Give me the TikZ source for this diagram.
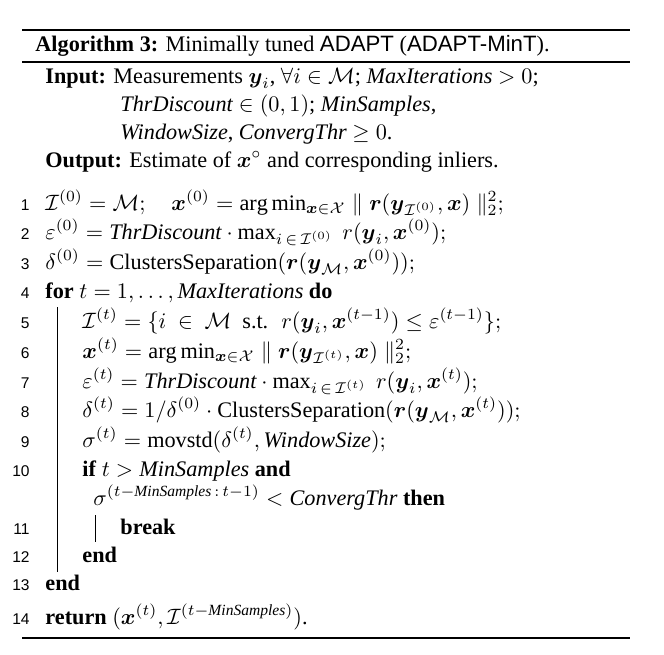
\documentclass[tikz,border=0pt]{standalone}
\usepackage{amsmath,amssymb}
\usepackage{fontspec}
\setmainfont{Liberation Serif}
\setsansfont{Liberation Sans}
\usetikzlibrary{positioning}
\newcommand{\bx}{\boldsymbol{x}}
\newcommand{\by}{\boldsymbol{y}}
\newcommand{\br}{\boldsymbol{r}}
\newcommand{\cI}{\mathcal{I}}
\newcommand{\cM}{\mathcal{M}}
\tikzset{
txt/.style={anchor=base west,inner sep=0pt},
num/.style={anchor=base east,inner sep=0pt,font=\sffamily\scriptsize},
rul/.style={line width=0.8pt},
bar/.style={line width=0.4pt}
}
\begin{document}
\begin{tikzpicture}[x=0.45pt,y=-0.45pt]
\useasboundingbox (0,0) rectangle (664,654);
% rules
\coordinate (r1a) at (22,30); \coordinate (r1b) at (630,30);
\coordinate (r2a) at (22,62); \coordinate (r2b) at (630,62);
\coordinate (r3a) at (22,638); \coordinate (r3b) at (630,638);
\draw[rul] (r1a) -- (r1b);
\draw[rul] (r2a) -- (r2b);
\draw[rul] (r3a) -- (r3b);
% caption and header
\node[txt] (cap) at (35,51) {\textbf{Algorithm 3:} Minimally tuned \textsf{ADAPT} (\textsf{ADAPT-MinT}).};
\node[txt] (inp) at (45,83) {\textbf{Input:} Measurements $\by_i$, $\forall i\in\cM$; \textit{MaxIterations} $>0$;};
\node[txt] (inp2) at (120,111) {\textit{ThrDiscount} $\in(0,1)$; \textit{MinSamples},};
\node[txt] (inp3) at (120,139) {\textit{WindowSize}, \textit{ConvergThr} $\geq 0$.};
\node[txt] (out) at (45,167) {\textbf{Output:} Estimate of $\bx^\circ$ and corresponding inliers.};
% numbered lines
\node[num] (n1) at (30,210) {1};
\node[txt] (l1) at (45,210) {$\cI^{(0)}=\cM;\quad \bx^{(0)}=\arg\min_{\bx\in\mathcal{X}}\parallel\br(\by_{\cI^{(0)}},\bx)\parallel_2^2;$};
\node[num] (n2) at (30,239) {2};
\node[txt] (l2) at (45,239) {$\varepsilon^{(0)}=\textit{ThrDiscount}\cdot\max_{i\,\in\,\cI^{(0)}}\ r(\by_i,\bx^{(0)});$};
\node[num] (n3) at (30,269) {3};
\node[txt] (l3) at (45,269) {$\delta^{(0)}=\mathrm{ClustersSeparation}(\br(\by_{\cM},\bx^{(0)}));$};
\node[num] (n4) at (30,298) {4};
\node[txt] (l4) at (45,298) {\textbf{for} $t=1,\dots,\textit{MaxIterations}$ \textbf{do}};
\node[num] (n5) at (30,328) {5};
\node[txt] (l5) at (82,328) {$\cI^{(t)}=\{i\ \in\ \cM\ \text{ s.t. }\ r(\by_i,\bx^{(t-1)})\leq\varepsilon^{(t-1)}\};$};
\node[num] (n6) at (30,358) {6};
\node[txt] (l6) at (82,358) {$\bx^{(t)}=\arg\min_{\bx\in\mathcal{X}}\parallel\br(\by_{\cI^{(t)}},\bx)\parallel_2^2;$};
\node[num] (n7) at (30,388) {7};
\node[txt] (l7) at (82,388) {$\varepsilon^{(t)}=\textit{ThrDiscount}\cdot\max_{i\,\in\,\cI^{(t)}}\ r(\by_i,\bx^{(t)});$};
\node[num] (n8) at (30,417) {8};
\node[txt] (l8) at (82,417) {$\delta^{(t)}=1/\delta^{(0)}\cdot\mathrm{ClustersSeparation}(\br(\by_{\cM},\bx^{(t)}));$};
\node[num] (n9) at (30,447) {9};
\node[txt] (l9) at (82,447) {$\sigma^{(t)}=\mathrm{movstd}(\delta^{(t)},\textit{WindowSize});$};
\node[num] (n10) at (30,476) {10};
\node[txt] (l10) at (82,476) {\textbf{if} $t>\textit{MinSamples}$ \textbf{and}};
\node[txt] (l10b) at (93,505) {$\sigma^{(t-\textit{MinSamples}\,:\,t-1)}<\textit{ConvergThr}$ \textbf{then}};
\node[num] (n11) at (30,534) {11};
\node[txt] (l11) at (120,534) {\textbf{break}};
\node[num] (n12) at (30,562) {12};
\node[txt] (l12) at (82,562) {\textbf{end}};
\node[num] (n13) at (30,590) {13};
\node[txt] (l13) at (45,590) {\textbf{end}};
\node[num] (n14) at (30,624) {14};
\node[txt] (l14) at (45,624) {\textbf{return} $(\bx^{(t)},\cI^{(t-\textit{MinSamples})})$.};
% block bars
\coordinate (b1a) at (57,307); \coordinate (b1b) at (57,572);
\coordinate (b2a) at (95,515); \coordinate (b2b) at (95,542);
\draw[bar] (b1a) -- (b1b);
\draw[bar] (b2a) -- (b2b);
\end{tikzpicture}
\end{document}
